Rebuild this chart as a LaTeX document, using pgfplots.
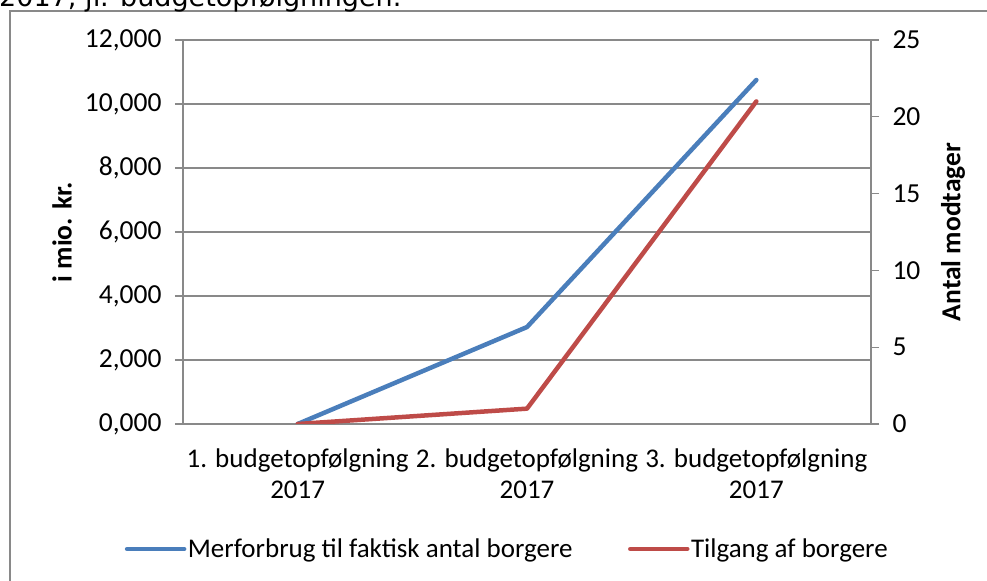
\documentclass[border=0pt]{standalone}
\usepackage{fontspec}
\setmainfont{Carlito}
\newfontfamily\verdana{DejaVu Sans}
\usepackage{pgfplots}
\pgfplotsset{compat=1.18}
\definecolor{xlblue}{HTML}{4A7EBB}
\definecolor{xlred}{HTML}{BE4B48}
\definecolor{xlgrid}{HTML}{898989}
\begin{document}
\begin{tikzpicture}
\pgfplotsset{
  every axis/.append style={
    scale only axis, width=688bp, height=384bp,
    at={(183bp,157bp)}, anchor=south west,
    xmin=-0.5, xmax=2.5,
    font=\fontsize{27.5bp}{31bp}\selectfont,
    /pgf/number format/assume math mode=true,
    axis line style={xlgrid, line width=1.2bp},
    tick style={xlgrid, line width=1.2bp},
    tick align=outside,
    major tick length=8bp,
  },
}
\begin{axis}[
  axis x line*=bottom, axis y line*=left,
  ymin=0, ymax=12, ytick={0,2,...,12},
  yticklabel style={/pgf/number format/fixed, /pgf/number format/fixed zerofill, /pgf/number format/precision=3, /pgf/number format/use comma, /pgf/number format/1000 sep={}, xshift=-10bp},
  ymajorgrids, grid style={xlgrid, line width=1.2bp},
  xtick={0,1,2},
  xticklabels={{1. budgetopfølgning\\2017},{2. budgetopfølgning\\2017},{3. budgetopfølgning\\2017}},
  xticklabel style={align=center, yshift=-13bp, font=\fontsize{27bp}{31bp}\selectfont},
  x tick style={draw=none},
  minor xtick={-0.5,0.5,1.5,2.5},
  minor tick length=8bp,
  minor x tick style={xlgrid, line width=1.2bp},
  ylabel={\bfseries i mio. kr.},
  ylabel style={at={(axis description cs:0,0.5)}, anchor=center, yshift=121bp},
  legend style={draw=none, fill=none, at={(0.471,-0.3255)}, anchor=center,
    legend columns=2, font=\fontsize{27bp}{31bp}\selectfont,
    /tikz/every even column/.append style={column sep=54bp},
    nodes={inner xsep=1.5bp}},
  legend image code/.code={\draw[#1, line cap=round] (0bp,0bp) -- (57bp,0bp);},
]
\addplot[xlblue, line width=4.5bp, line join=round, line cap=round] coordinates {(0,0) (1,3.03) (2,10.75)};
\addlegendentry{Merforbrug til faktisk antal borgere}
\addlegendimage{xlred, line width=4.5bp}
\addlegendentry{Tilgang af borgere}
\end{axis}
\begin{axis}[
  axis x line=none, axis y line*=right,
  ymin=0, ymax=25, ytick={0,5,...,25},
  yticklabel style={xshift=10bp},
  ylabel={\bfseries Antal modtager},
  ylabel style={at={(axis description cs:1,0.5)}, anchor=center, rotate=0, yshift=-82bp},
]
\addplot[xlred, line width=4.5bp, line join=round, line cap=round] coordinates {(0,0) (1,1) (2,21)};
\end{axis}
\draw[xlgrid, line width=2bp] (10bp,-10bp) |- (1000bp,570bp);
\node[anchor=base west, inner sep=0pt, font=\verdana\fontsize{27bp}{30bp}\selectfont] at (-1bp,574bp) {2017, jf. budgetopfølgningen.};
\pgfresetboundingbox
\useasboundingbox (0bp,0bp) rectangle (987bp,581bp);
\end{tikzpicture}
\end{document}
